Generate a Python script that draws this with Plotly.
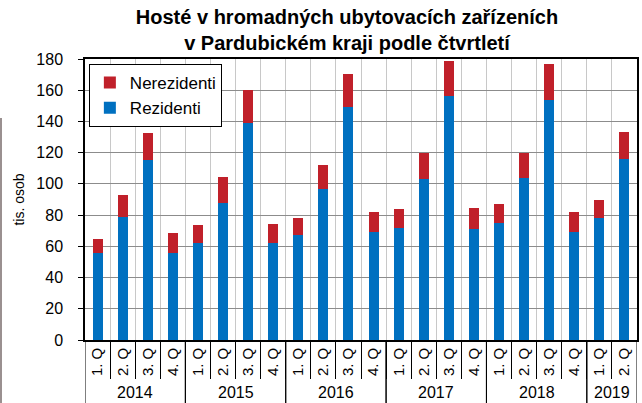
import plotly.graph_objects as go

years = ["2014"] * 4 + ["2015"] * 4 + ["2016"] * 4 + ["2017"] * 4 + ["2018"] * 4 + ["2019"] * 2
quarters = ["1. Q", "2. Q", "3. Q", "4. Q"] * 5 + ["1. Q", "2. Q"]
rezidenti = [56, 79, 115, 56, 62, 88, 139, 62, 67, 97, 149, 69, 72, 103, 156, 71, 75, 103.5, 154, 69, 78, 116]
nerezidenti = [9, 14, 17.5, 12.5, 11.5, 16.5, 21, 12.5, 11, 15, 21.5, 13, 12, 17, 23, 13.5, 12, 16.5, 23, 13, 12, 17.5]
y_ticks = list(range(0, 181, 20))

BLUE = "#0070C0"
RED = "#C0202A"
FONT = "Liberation Sans, Arial, sans-serif"

n = len(quarters)
pos = list(range(n))

fig = go.Figure()
fig.add_trace(go.Bar(x=pos, y=rezidenti, name="Rezidenti",
                     marker=dict(color=BLUE, line=dict(width=0))))
fig.add_trace(go.Bar(x=pos, y=nerezidenti, name="Nerezidenti",
                     marker=dict(color=RED, line=dict(width=0))))

fig.update_layout(
    barmode="stack",
    bargap=0.6,
    width=642, height=403,
    margin=dict(l=85, r=5, t=59, b=63, autoexpand=False),
    paper_bgcolor="white", plot_bgcolor="white",
    font=dict(family=FONT, color="black", size=16),
    title=dict(text="<b>Hosté v hromadných ubytovacích zařízeních<br>v Pardubickém kraji podle čtvrtletí</b>",
               x=347 / 642, xanchor="center", y=1 - 24 / 403, yanchor="top",
               font=dict(size=20, family=FONT)),
    legend=dict(x=0.007, y=0.982, xanchor="left", yanchor="top",
                bordercolor="black", borderwidth=1, bgcolor="white",
                traceorder="reversed", font=dict(size=17),
                itemwidth=30, tracegroupgap=0),
    showlegend=True,
)
fig.update_yaxes(range=[0, 180], tickvals=y_ticks, showgrid=True, gridcolor="#8c8c8c", gridwidth=1,
                 showline=True, linecolor="black", linewidth=1.5, mirror=True,
                 ticks="outside", ticklen=5, tickcolor="black",
                 tickfont=dict(size=16), ticklabelstandoff=12,
                 title=dict(text="tis. osob", font=dict(size=14), standoff=8),
                 zeroline=False)

boundaries = [i - 0.5 for i in range(1, n)]
fig.update_xaxes(range=[-0.5, n - 0.5], tickvals=pos, ticktext=quarters, tickangle=-90,
                 tickfont=dict(size=15), ticks="", showgrid=False, zeroline=False,
                 showline=True, linecolor="black", linewidth=1.5, mirror=True,
                 minor=dict(tickvals=boundaries, ticks="outside", ticklen=37, tickcolor="black",
                            showgrid=True, gridcolor="#c8c8c8", gridwidth=1))

# year group labels and dividers
year_names = list(dict.fromkeys(years))
for yname in year_names:
    idx = [i for i, yv in enumerate(years) if yv == yname]
    fig.add_annotation(x=sum(idx) / len(idx), xref="x", y=-52 / 281, yref="paper",
                       text=yname, showarrow=False, font=dict(size=16), yanchor="middle",
                       borderpad=0)
    for bx in (idx[0] - 0.5, idx[-1] + 0.5):
        fig.add_shape(type="line", xref="x", yref="paper", x0=bx, x1=bx, y0=0, y1=-63 / 281,
                      line=dict(color="black", width=1))

fig.add_shape(type="line", xref="paper", yref="paper",
              x0=-84 / 552, x1=-84 / 552, y0=(340 - 118) / 281, y1=-63 / 281,
              line=dict(color="#9a9090", width=2))

fig.write_html("out.html", config={"displayModeBar": False},
               post_script="document.body.style.margin='0';")
